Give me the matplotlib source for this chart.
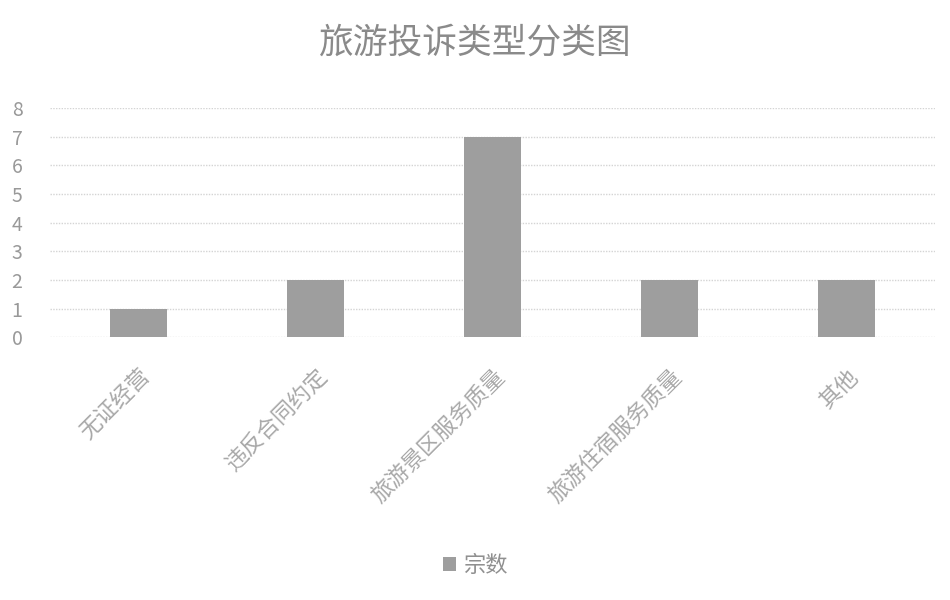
import matplotlib
matplotlib.use('Agg')
import matplotlib.pyplot as plt

plt.rcParams['font.family'] = ['Noto Sans CJK SC', 'DejaVu Sans']

# 数据
categories = ['无证经营', '违反合同约定', '旅游景区服务质量', '旅游住宿服务质量', '其他']
counts = [1, 2, 7, 2, 2]
series_name = '宗数'

fig = plt.figure(figsize=(9.5, 6), dpi=100)
ax = fig.add_axes([0.053, 0.438, 0.931, 0.382])

x = range(len(categories))
ax.bar(x, counts, width=0.32, color='#9e9e9e', label=series_name, zorder=2)

ax.set_ylim(0, 8)
ax.set_xlim(-0.5, len(categories) - 0.5)
ax.set_yticks(range(0, 9))
ax.yaxis.grid(True, color='#d4d4d4', linewidth=1, linestyle=(0, (1, 1)), zorder=0)
for s in ax.spines.values():
    s.set_visible(False)
ax.tick_params(axis='both', length=0, colors='#999999')
ax.tick_params(axis='y', labelsize=14, pad=24)
for lbl in ax.get_yticklabels():
    lbl.set_horizontalalignment('center')
    lbl.set_fontweight('light')
ax.set_xticks(list(x))
ax.set_xticklabels(categories, rotation=45, ha='right', rotation_mode='anchor',
                   fontsize=16, color='#a8a8a8', fontweight='light')
ax.tick_params(axis='x', pad=20)

fig.suptitle('旅游投诉类型分类图', y=0.958, fontsize=25, color='#8a8a8a',
             fontweight='light')

fig.legend(loc='lower center', bbox_to_anchor=(0.5, 0.005), frameon=False,
           fontsize=16, labelcolor='#909090', handlelength=0.6, handleheight=0.6,
           handletextpad=0.3)

fig.savefig('out.png', dpi=100, facecolor='white')
